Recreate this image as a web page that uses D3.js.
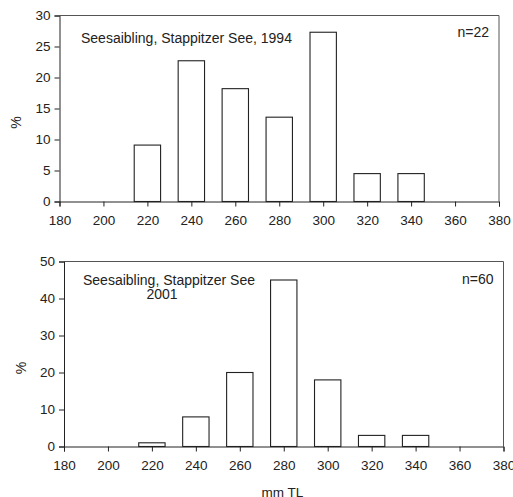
<!DOCTYPE html>
<html>
<head>
<meta charset="utf-8">
<script src="https://cdn.jsdelivr.net/npm/d3@7"></script>
<style>
  body { margin: 0; background: #fff; }
  svg { display: block; font-family: "Liberation Sans", Arial, sans-serif; }
  .axis text { font-size: 13.5px; fill: #222; font-family: "Liberation Sans", Arial, sans-serif; }
  .axis path, .axis line { stroke: #222; }
</style>
</head>
<body>
<div id="container"></div>
<script>
/* DATA */
const lengthClasses = [220, 240, 260, 280, 300, 320, 340];
const pct1994 = [9.1, 22.7, 18.2, 13.6, 27.3, 4.5, 4.5];
const pct2001 = [1, 8, 20, 45, 18, 3, 3];
const xTicks = [180, 200, 220, 240, 260, 280, 300, 320, 340, 360, 380];
const yTicks1994 = [0, 5, 10, 15, 20, 25, 30];
const yTicks2001 = [0, 10, 20, 30, 40, 50];

const width = 513, height = 497;

const svg = d3.select("#container")
  .append("svg")
  .attr("width", width)
  .attr("height", height);

function panel(cfg) {
  const xScale = d3.scaleLinear().domain([180, 380]).range([cfg.left, cfg.right]);
  const yScale = d3.scaleLinear().domain([0, cfg.yMax]).range([cfg.bottom, cfg.top]);
  const g = svg.append("g");

  // frame top and right
  g.append("line")
    .attr("x1", cfg.left).attr("x2", cfg.right)
    .attr("y1", cfg.top).attr("y2", cfg.top)
    .attr("stroke", "#555");
  g.append("line")
    .attr("x1", cfg.right).attr("x2", cfg.right)
    .attr("y1", cfg.top).attr("y2", cfg.bottom)
    .attr("stroke", "#555");

  // bars
  g.selectAll("rect")
    .data(lengthClasses.map((c, i) => ({ c, v: cfg.values[i] })))
    .join("rect")
      .attr("x", d => xScale(d.c - 6))
      .attr("width", d => xScale(d.c + 6) - xScale(d.c - 6))
      .attr("y", d => yScale(d.v))
      .attr("height", d => yScale(0) - yScale(d.v))
      .attr("fill", "#fff")
      .attr("stroke", "#222")
      .attr("stroke-width", 1.1);

  // axes
  g.append("g")
    .attr("class", "axis")
    .attr("transform", `translate(0,${cfg.bottom})`)
    .call(d3.axisBottom(xScale).tickValues(xTicks).tickFormat(d3.format("d")).tickSizeOuter(0).tickSize(5).tickPadding(9));

  g.append("g")
    .attr("class", "axis")
    .attr("transform", `translate(${cfg.left},0)`)
    .call(d3.axisLeft(yScale).tickValues(cfg.yTicks).tickSizeOuter(0).tickSize(5).tickPadding(4));

  // y label
  g.append("text")
    .attr("transform", `translate(${cfg.yLabelX},${(cfg.top + cfg.bottom) / 2 + 14}) rotate(-90)`)
    .attr("text-anchor", "middle")
    .attr("font-size", 14)
    .attr("fill", "#222")
    .text("%");

  // n label
  g.append("text")
    .attr("x", cfg.right - 10)
    .attr("y", cfg.top + cfg.nDy)
    .attr("text-anchor", "end")
    .attr("font-size", 14)
    .attr("fill", "#222")
    .text(cfg.n);

  return g;
}

const panel1994 = panel({
  left: 59.5, right: 499, top: 15.5, bottom: 201.5, yMax: 30,
  values: pct1994, yTicks: yTicks1994, yLabelX: 21, n: "n=22", nDy: 21
});
panel1994.append("text")
  .attr("x", 81).attr("y", 42.5)
  .attr("font-size", 14).attr("fill", "#222")
  .text("Seesaibling, Stappitzer See, 1994");

const panel2001 = panel({
  left: 64, right: 503.5, top: 261.5, bottom: 446.5, yMax: 50,
  values: pct2001, yTicks: yTicks2001, yLabelX: 26, n: "n=60", nDy: 22
});
panel2001.append("text")
  .attr("x", 83).attr("y", 285)
  .attr("font-size", 14).attr("fill", "#222")
  .text("Seesaibling, Stappitzer See");
panel2001.append("text")
  .attr("x", 162).attr("y", 299)
  .attr("text-anchor", "middle")
  .attr("font-size", 14).attr("fill", "#222")
  .text("2001");

svg.append("text")
  .attr("x", 282.5).attr("y", 497)
  .attr("text-anchor", "middle")
  .attr("font-size", 13.5).attr("fill", "#222")
  .text("mm TL");
</script>
</body>
</html>
